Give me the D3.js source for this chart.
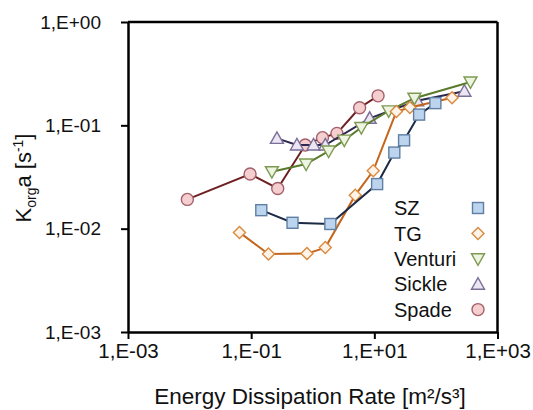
<!DOCTYPE html>
<html>
<head>
<meta charset="utf-8">
<script src="https://cdn.jsdelivr.net/npm/d3@7"></script>
<style>
  html, body { margin: 0; padding: 0; background: #fff; }
  svg { display: block; font-family: "Liberation Sans", Arial, sans-serif; }
</style>
</head>
<body>
<svg id="chart" width="533" height="410"></svg>
<script>
// Volumetric mass-transfer coefficient vs. energy dissipation rate, per mixer type
const seriesNames = ["SZ", "TG", "Venturi", "Sickle", "Spade"];

const szX = [0.146, 0.469, 1.93, 11.1, 21.1, 30.4, 53.3, 98];
const szY = [0.0151, 0.0114, 0.0111, 0.027, 0.0545, 0.0716, 0.127, 0.164];

const tgX = [0.0646, 0.191, 0.805, 1.6, 4.9, 9.6, 22.8, 37.8, 183];
const tgY = [0.0092, 0.00568, 0.00574, 0.00656, 0.0211, 0.0363, 0.136, 0.149, 0.185];

const venturiX = [0.217, 0.78, 1.81, 3.25, 6.15, 17.1, 44.7, 364];
const venturiY = [0.0356, 0.0422, 0.0564, 0.072, 0.0953, 0.138, 0.183, 0.263];

const sickleX = [0.262, 0.553, 1.03, 1.6, 8.4, 49.5, 290];
const sickleY = [0.0748, 0.0645, 0.0645, 0.0645, 0.117, 0.173, 0.214];

const spadeX = [0.0092, 0.096, 0.27, 0.755, 1.44, 2.47, 5.77, 11.5];
const spadeY = [0.0192, 0.0338, 0.0245, 0.0645, 0.076, 0.0836, 0.148, 0.193];

const xTicks = [1e-3, 1e-1, 1e1, 1e3];
const yTicks = [1e-3, 1e-2, 1e-1, 1e0];
const xTitle = "Energy Dissipation Rate [m²/s³]";

const svg = d3.select("#chart");
const plotL = 128, plotR = 497.5, plotT = 22, plotB = 332;

const x = d3.scaleLog().domain([1e-3, 1e3]).range([plotL, plotR]);
const y = d3.scaleLog().domain([1e-3, 1e0]).range([plotB, plotT]);

// "1,E-03" style labels
const fmt = v => {
  const e = Math.round(Math.log10(v));
  const s = e < 0 ? "-" : "+";
  return "1,E" + s + String(Math.abs(e)).padStart(2, "0");
};

// frame: top and right borders
svg.append("line").attr("x1", plotL).attr("x2", plotR).attr("y1", plotT).attr("y2", plotT)
  .attr("stroke", "#000").attr("stroke-width", 2.5);
svg.append("line").attr("x1", plotR).attr("x2", plotR).attr("y1", plotT).attr("y2", plotB)
  .attr("stroke", "#000").attr("stroke-width", 2.5);

const xAxis = svg.append("g").attr("transform", `translate(0,${plotB})`)
  .call(d3.axisBottom(x).tickValues(xTicks).tickFormat(fmt).tickSize(7).tickSizeOuter(0));
const yAxis = svg.append("g").attr("transform", `translate(${plotL},0)`)
  .call(d3.axisLeft(y).tickValues(yTicks).tickFormat(fmt).tickSize(7).tickSizeOuter(0));

[xAxis, yAxis].forEach(g => {
  g.select(".domain").attr("stroke", "#000").attr("stroke-width", 2.5);
  g.selectAll(".tick line").attr("stroke", "#000").attr("stroke-width", 2);
  g.selectAll(".tick text").attr("fill", "#111")
    .attr("font-family", "Liberation Sans, Arial, sans-serif");
});
xAxis.selectAll(".tick text").attr("font-size", 20.5).attr("dy", "0.71em").attr("y", 11);
yAxis.selectAll(".tick text").attr("font-size", 19).attr("x", -27);

// axis titles
svg.append("text").attr("x", 310).attr("y", 404).attr("text-anchor", "middle")
  .attr("font-size", 22.5).attr("fill", "#111").text(xTitle);

const yt = svg.append("text").attr("transform", "translate(31,178) rotate(-90)")
  .attr("text-anchor", "middle").attr("font-size", 22).attr("fill", "#111");
yt.append("tspan").text("K");
yt.append("tspan").attr("font-size", 14).attr("dy", 5).text("org");
yt.append("tspan").attr("dy", -5).text("a [s");
yt.append("tspan").attr("font-size", 14).attr("dy", -8).text("-1");
yt.append("tspan").attr("dy", 8).text("]");

// series styling
const styles = {
  SZ:      { line: "#1c2a44", fill: "#bcd4ee", stroke: "#5f7fa3", shape: "square" },
  TG:      { line: "#c4661c", fill: "#fdf3e8", stroke: "#d98a3e", shape: "diamond" },
  Venturi: { line: "#5a7a2c", fill: "#eef4e2", stroke: "#7e9a52", shape: "tridown" },
  Sickle:  { line: "#2c2850", fill: "#ece6f3", stroke: "#7b6e98", shape: "triup" },
  Spade:   { line: "#6e1f22", fill: "#f5cfcf", stroke: "#a4606a", shape: "circle" }
};

const seriesData = {
  SZ: d3.zip(szX, szY),
  TG: d3.zip(tgX, tgY),
  Venturi: d3.zip(venturiX, venturiY),
  Sickle: d3.zip(sickleX, sickleY),
  Spade: d3.zip(spadeX, spadeY)
};

function drawMarker(g, shape, cx, cy, st) {
  let m;
  if (shape === "square") {
    m = g.append("rect").attr("x", cx - 5.5).attr("y", cy - 5.5).attr("width", 11).attr("height", 11);
  } else if (shape === "diamond") {
    m = g.append("path").attr("d", `M${cx},${cy - 6}L${cx + 6},${cy}L${cx},${cy + 6}L${cx - 6},${cy}Z`);
  } else if (shape === "tridown") {
    m = g.append("path").attr("d", `M${cx - 6.5},${cy - 5}L${cx + 6.5},${cy - 5}L${cx},${cy + 6.5}Z`);
  } else if (shape === "triup") {
    m = g.append("path").attr("d", `M${cx - 6.5},${cy + 5}L${cx + 6.5},${cy + 5}L${cx},${cy - 6.5}Z`);
  } else {
    m = g.append("circle").attr("cx", cx).attr("cy", cy).attr("r", 6);
  }
  m.attr("fill", st.fill).attr("stroke", st.stroke).attr("stroke-width", 1.4);
}

const line = d3.line().x(d => x(d[0])).y(d => y(d[1]));
const drawOrder = ["Spade", "Sickle", "Venturi", "TG", "SZ"];
drawOrder.forEach(name => {
  const st = styles[name];
  const g = svg.append("g");
  g.append("path").datum(seriesData[name]).attr("d", line)
    .attr("fill", "none").attr("stroke", st.line).attr("stroke-width", 2);
  seriesData[name].forEach(d => drawMarker(g, st.shape, x(d[0]), y(d[1]), st));
});

// legend
const lg = svg.append("g");
seriesNames.forEach((name, i) => {
  const ly = 208 + i * 25.4;
  lg.append("text").attr("x", 394).attr("y", ly).attr("dy", "0.36em")
    .attr("font-size", 20).attr("fill", "#111").text(name);
  drawMarker(lg, styles[name].shape, 478, ly, styles[name]);
});
</script>
</body>
</html>
